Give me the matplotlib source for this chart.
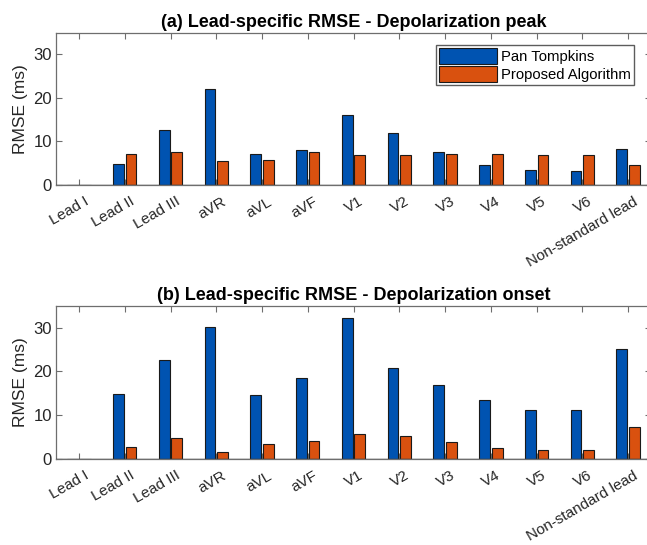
import matplotlib
matplotlib.use("Agg")
import matplotlib.pyplot as plt
import matplotlib.transforms as mtransforms
import numpy as np

leads = ["Lead I", "Lead II", "Lead III", "aVR", "aVL", "aVF", "V1", "V2",
         "V3", "V4", "V5", "V6", "Non-standard lead"]
peak_pan = [0, 4.7, 12.6, 22.1, 7.1, 7.9, 16.0, 11.9, 7.6, 4.6, 3.3, 3.1, 8.3]
peak_prop = [0, 7.1, 7.5, 5.5, 5.8, 7.6, 6.9, 6.9, 7.1, 7.1, 6.9, 6.8, 4.6]
onset_pan = [0, 14.9, 22.7, 30.1, 14.5, 18.5, 32.2, 20.7, 16.9, 13.4, 11.2, 11.1, 25.1]
onset_prop = [0, 2.6, 4.7, 1.6, 3.4, 4.0, 5.6, 5.3, 3.8, 2.4, 2.0, 2.0, 7.3]
titles = ["(a) Lead-specific RMSE - Depolarization peak",
          "(b) Lead-specific RMSE - Depolarization onset"]
series_names = ["Pan Tompkins", "Proposed Algorithm"]

plt.rcParams['font.family'] = ['Liberation Sans', 'DejaVu Sans']
BLUE = "#0053B1"
ORANGE = "#D9510F"
AX = "#262626"
FRAME = "#6e6e6e"

fig = plt.figure(figsize=(6.47, 5.45), dpi=100)
pos = [[0.0867, 0.6611, 0.9195, 0.2789],
       [0.0867, 0.1583, 0.9195, 0.2807]]
data = [(peak_pan, peak_prop), (onset_pan, onset_prop)]
x = np.arange(1, len(leads) + 1)
w = 0.235
off = 0.138
for i in range(2):
    ax = fig.add_axes(pos[i])
    a, b = data[i]
    ax.bar(x - off, a, w, color=BLUE, edgecolor="#1a1a1a", linewidth=0.8,
           label=series_names[0], zorder=2)
    ax.bar(x + off, b, w, color=ORANGE, edgecolor="#1a1a1a", linewidth=0.8,
           label=series_names[1], zorder=2)
    ax.axhline(0, color="#3a3a3a", lw=1.0, zorder=3)
    ax.set_xlim(0.5, len(leads) + 0.5)
    ax.set_ylim(0, 35)
    ax.set_yticks([0, 10, 20, 30])
    ax.set_xticks(x)
    ax.set_xticklabels(leads, rotation=30, ha="right", rotation_mode="anchor",
                       fontsize=11, color=AX)
    ax.tick_params(axis="both", direction="in", length=4, width=0.8,
                   top=True, right=True, colors=FRAME, labelcolor=AX,
                   labelsize=12, pad=3)
    ax.tick_params(axis="x", labelsize=11, pad=7)
    shift = mtransforms.ScaledTranslation(5 / 100, 0, fig.dpi_scale_trans)
    for lbl in ax.get_xticklabels():
        lbl.set_transform(lbl.get_transform() + shift)
    for s in ax.spines.values():
        s.set_color(FRAME)
        s.set_linewidth(0.9)
    ax.set_ylabel("RMSE (ms)", fontsize=12.5, color=AX, labelpad=4)
    ax.set_title(titles[i], fontsize=13, fontweight="bold", color="black", pad=4)
    if i == 0:
        ax.legend(loc="upper right", bbox_to_anchor=(0.971, 0.919),
                  fontsize=10.7, frameon=True, fancybox=False, edgecolor="#333333",
                  handlelength=3.9, handleheight=1.3, borderpad=0.2,
                  labelspacing=0.1, handletextpad=0.25, borderaxespad=0)

fig.savefig("out.png", dpi=100)
